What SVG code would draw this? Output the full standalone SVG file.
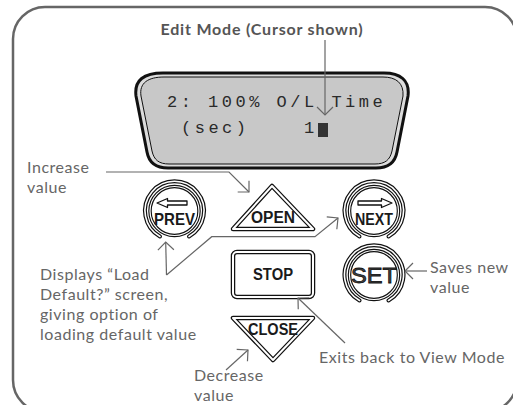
<svg xmlns="http://www.w3.org/2000/svg" width="513" height="405" viewBox="0 0 513 405">
<style>
.lbl{font-family:Lato,"Noto Sans","Liberation Sans",sans-serif;font-size:16px;fill:#666;letter-spacing:0.55px}
.ttl{font-family:Lato,"Noto Sans","Liberation Sans",sans-serif;font-size:16px;font-weight:bold;fill:#555;letter-spacing:0.8px}
.lcd{font-family:"Liberation Mono","DejaVu Sans Mono",monospace;font-size:17px;fill:#2a2a2a;letter-spacing:3.5px}
.btn{font-family:"Liberation Sans",Arial,sans-serif;font-weight:bold;fill:#1a1a1a}
.ob{fill:none;stroke:#111;stroke-width:4.5;stroke-linecap:round;stroke-linejoin:round}
.ow{fill:none;stroke:#fff;stroke-width:2;stroke-linecap:round;stroke-linejoin:round}
.rb{fill:#fff;stroke:#111;stroke-width:4;stroke-linecap:round}
.rw{fill:none;stroke:#fff;stroke-width:1.6;stroke-linecap:round}
.ib{fill:#fff;stroke:#111;stroke-width:3.5}
.iw{fill:none;stroke:#fff;stroke-width:1.2}
.conn{fill:none;stroke:#666;stroke-width:1.2}
.arr{fill:#fff;stroke:#111;stroke-width:1.3;stroke-linejoin:round}
</style>
<defs>
<marker id="ah" markerUnits="userSpaceOnUse" viewBox="-10 -10 12 20" refX="0" refY="0" markerWidth="12" markerHeight="20" orient="auto">
<path d="M-8,-8 L0,0 L-8,8" fill="none" stroke="#666" stroke-width="1.2"/>
</marker>
</defs>
<rect x="13" y="7" width="504" height="405" rx="32" fill="none" stroke="#666" stroke-width="2.5"/>
<text class="ttl" x="262" y="35" text-anchor="middle">Edit Mode (Cursor shown)</text>

<g id="display">
<path d="M163,73 L384,73 C400,73 410,80 408,96 L397,152 C395,163 388,168 376,168 L168,168 C156,168 149,163 147,152 L136,96 C134,80 144,73 163,73 Z" fill="#dcdcdc" stroke="#111" stroke-width="3"/>
<path d="M164,77 L383,77 C396,77 404,83 403,96 L392,151 C390,160 385,164 375,164 L169,164 C159,164 154,160 152,151 L141,96 C139,83 148,77 164,77 Z" fill="#c8c8c8" stroke="#111" stroke-width="1"/>
<text class="lcd" x="167" y="107">2: 100% O/L Time</text>
<text class="lcd" x="181" y="133">(sec)</text>
<text class="lcd" x="304" y="133">1</text>
<rect x="318" y="123" width="10" height="14" fill="#333"/>
</g>

<g id="prev">
<path class="rb" d="M160,236.5 A29.5,29.5 0 1 1 189,236.5"/>
<path class="rw" d="M160,236.5 A29.5,29.5 0 1 1 189,236.5"/>
<circle class="ib" cx="174.5" cy="211" r="24.5"/>
<circle class="iw" cx="174.5" cy="211" r="24.5"/>
<path class="arr" d="M157,203 L167.5,198.5 L167.5,201 L187,201 L187,205 L167.5,205 L167.5,207.5 Z"/>
<text class="btn" x="154" y="225" font-size="16.5" textLength="41" lengthAdjust="spacingAndGlyphs">PREV</text>
</g>

<g id="open">
<path class="ob" d="M272,186 L313,229 L233,229 Z" fill="#fff"/>
<path class="ow" d="M272,186 L313,229 L233,229 Z"/>
<text class="btn" x="251" y="223" font-size="16" textLength="44" lengthAdjust="spacingAndGlyphs">OPEN</text>
</g>

<g id="next">
<path class="rb" d="M359.5,236.5 A29.5,29.5 0 1 1 388.5,236.5"/>
<path class="rw" d="M359.5,236.5 A29.5,29.5 0 1 1 388.5,236.5"/>
<circle class="ib" cx="374" cy="211" r="24.5"/>
<circle class="iw" cx="374" cy="211" r="24.5"/>
<path class="arr" d="M392,203 L381.5,198.5 L381.5,201 L358,201 L358,205 L381.5,205 L381.5,207.5 Z"/>
<text class="btn" x="355" y="225" font-size="16.5" textLength="38" lengthAdjust="spacingAndGlyphs">NEXT</text>
</g>

<g id="stop">
<rect class="ob" x="233" y="252" width="80" height="45" rx="4" fill="#fff"/>
<rect class="ow" x="233" y="252" width="80" height="45" rx="4"/>
<text class="btn" x="253" y="280" font-size="16" textLength="40" lengthAdjust="spacingAndGlyphs">STOP</text>
</g>

<g id="set">
<path class="rb" d="M359.5,300.5 A29.5,29.5 0 1 1 388.5,300.5"/>
<path class="rw" d="M359.5,300.5 A29.5,29.5 0 1 1 388.5,300.5"/>
<circle class="ib" cx="374" cy="275" r="24.5"/>
<circle class="iw" cx="374" cy="275" r="24.5"/>
<text x="351" y="283" font-family="'Liberation Sans',Arial,sans-serif" font-size="22" fill="#444" stroke="#111" stroke-width="0.8" textLength="46" lengthAdjust="spacingAndGlyphs">SET</text>
</g>

<g id="close">
<path class="ob" d="M233,318 L313,318 L273,360 Z" fill="#fff"/>
<path class="ow" d="M233,318 L313,318 L273,360 Z"/>
<text class="btn" x="248" y="335" font-size="16" textLength="50" lengthAdjust="spacingAndGlyphs">CLOSE</text>
</g>

<g id="labels">
<text class="lbl" x="27" y="173">Increase</text>
<text class="lbl" x="27" y="193">value</text>
<text class="lbl" x="40" y="280">Displays “Load</text>
<text class="lbl" x="40" y="300">Default?” screen,</text>
<text class="lbl" x="40" y="320">giving option of</text>
<text class="lbl" x="40" y="340">loading default value</text>
<text class="lbl" x="430" y="273">Saves new</text>
<text class="lbl" x="430" y="293">value</text>
<text class="lbl" x="319" y="363">Exits back to View Mode</text>
<text class="lbl" x="194" y="381">Decrease</text>
<text class="lbl" x="194" y="401">value</text>
</g>

<g id="connectors">
<path class="conn" d="M325,40 L325,115" marker-end="url(#ah)"/>
<path class="conn" d="M106,172 L229,172 L249,192" marker-end="url(#ah)"/>
<path class="conn" d="M166.5,275 L165.7,242" marker-end="url(#ah)"/>
<path class="conn" d="M166.5,275 L211.7,236.7 L315,236.7 L338,218" marker-end="url(#ah)"/>
<path class="conn" d="M427,271 L405,271" marker-end="url(#ah)"/>
<path class="conn" d="M345,343 L298,298" marker-end="url(#ah)"/>
<path class="conn" d="M226,370 L248,350" marker-end="url(#ah)"/>
</g>
</svg>
